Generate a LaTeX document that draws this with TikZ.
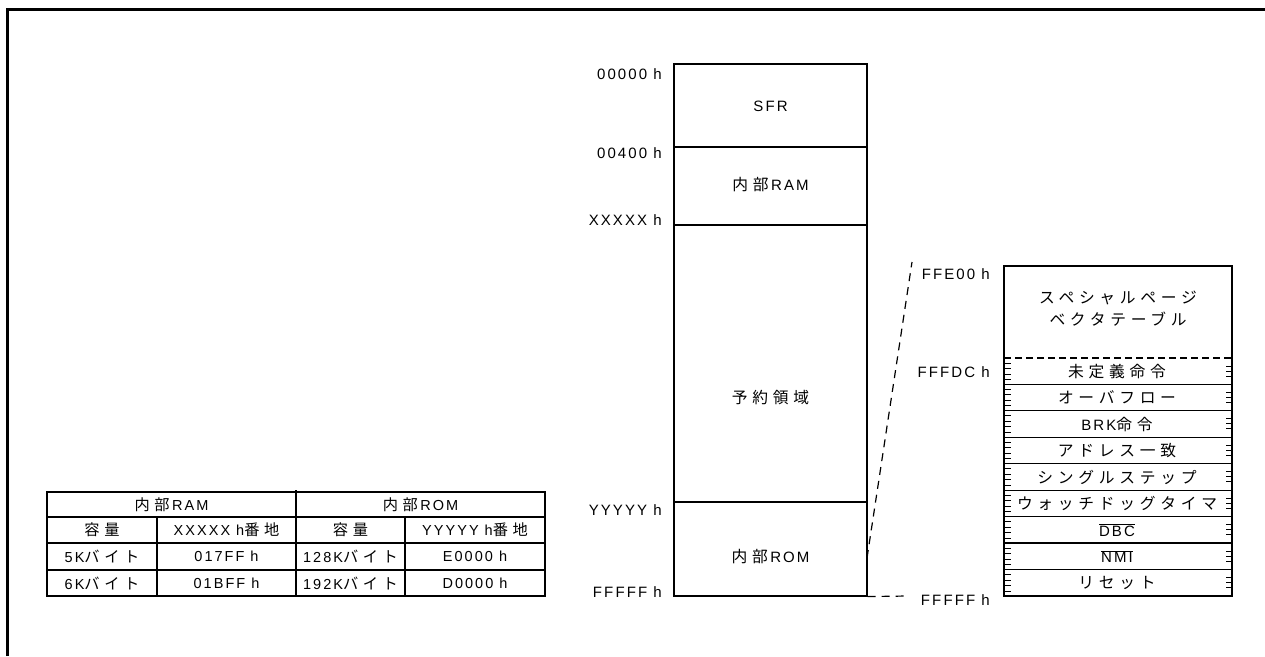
\documentclass[tikz,border=0pt]{standalone}
\usepackage{fontspec}
\setmainfont{Liberation Sans}[LetterSpace=14]
\newfontfamily\jp{Noto Sans CJK JP}[Scale=1.05,LetterSpace=30]
\begin{document}
\begin{tikzpicture}[x=1pt,y=-1pt,
  region/.style={shape=rectangle,draw=black,line width=1.2pt,minimum width=193pt,inner sep=0pt},
  addr/.style={anchor=east,inner sep=0pt,font=\fontsize{15}{17}\selectfont},
  txt/.style={inner sep=0pt,font=\fontsize{15}{22}\selectfont},
  cell/.style={inner sep=0pt,font=\fontsize{14.5}{16}\selectfont},
  link/.style={line width=1.2pt,dash pattern=on 8pt off 6pt},
  tick/.style={line width=0.9pt}]
\useasboundingbox (0,0) rectangle (1265,656);
\draw[line width=3pt] (7.5,656) -- (7.5,9.5) -- (1265,9.5);
% memory map
\node[region,minimum height=83pt] (sfr) at (770.5,105.5) {};
\node[region,minimum height=78pt] (ram) at (770.5,186) {};
\node[region,minimum height=277pt] (rsv) at (770.5,363.5) {};
\node[region,minimum height=94pt] (rom) at (770.5,549) {};
\node[txt] (sfrt) at (770.5,106) {SFR};
\node[txt] (ramt) at (770.5,185) {{\jp 内部}\,RAM};
\node[txt] (rsvt) at (770.5,398) {\jp 予約領域};
\node[txt] (romt) at (770.5,557) {{\jp 内部}\,ROM};
\node[addr] (a00000) at (662,74) {00000 h};
\node[addr] (a00400) at (662,153) {00400 h};
\node[addr] (aXXXXX) at (662,220) {XXXXX h};
\node[addr] (aYYYYY) at (662,510) {YYYYY h};
\node[addr] (aFFFFF) at (662,592) {FFFFF h};
% vector table
\node[region,minimum width=228pt,minimum height=330pt] (vt) at (1118,431) {};
\node[txt,align=center] (spv) at (1118,309) {\jp スペシャルページ\\\jp ベクタテーブル};
\node[addr] (aFFE00) at (990,274) {FFE00 h};
\node[addr] (aFFFDC) at (990,372) {FFFDC h};
\node[addr] (aFFFFFv) at (990,600) {FFFFF h};
\draw[line width=1.2pt,dash pattern=on 7pt off 4pt] (1004,358) -- (1232,358);
\foreach \lbl [count=\i] in {{\jp 未定義命令},{\jp オーバフロー},{BRK{\jp 命令}},{\jp アドレス一致},{\jp シングルステップ},{\jp ウォッチドッグタイマ},{$\overline{\mbox{DBC}}$},{$\overline{\mbox{NMI}}$},{\jp リセット}}{
  \pgfmathsetmacro{\yt}{358+(\i-1)*26.44}
  \node[txt] (row\i) at (1117,\yt+13.22) {\lbl};
  \ifnum\i>1 \draw[line width=1.2pt] (1004,\yt) -- (1232,\yt); \fi
  \foreach \d in {5,10.5,16,21.5} \draw[tick] (1004,\yt+\d) -- (1011,\yt+\d);
  \foreach \d in {8,13,18} \draw[tick] (1226,\yt+\d) -- (1232,\yt+\d);
}
% connectors
\coordinate (romtap) at (867,558);
\coordinate (vtop) at (912,262);
\coordinate (vend) at (907,596);
\draw[link] (romtap) -- (vtop);
\draw[link] (rom.south east) -- (vend);
% table
\draw[line width=1.1pt] (47,492) rectangle (545,596);
\foreach \y in {517,543,570} \draw[line width=1.1pt] (47,\y) -- (545,\y);
\draw[line width=1.1pt] (296,490) -- (296,596);
\draw[line width=1.1pt] (157,517) -- (157,596);
\draw[line width=1.1pt] (405,517) -- (405,596);
\node[cell] (hram) at (171.5,504.5) {{\jp 内部}\,RAM};
\node[cell] (hrom) at (420.5,504.5) {{\jp 内部}\,ROM};
\node[cell] (c21) at (102,530) {\jp 容量};
\node[cell] (c22) at (226.5,530) {XXXXX h{\jp 番地}};
\node[cell] (c23) at (350.5,530) {\jp 容量};
\node[cell] (c24) at (475,530) {YYYYY h{\jp 番地}};
\node[cell] (c31) at (102,556.5) {5K{\jp バイト}};
\node[cell] (c32) at (226.5,556.5) {017FF h};
\node[cell] (c33) at (350.5,556.5) {128K{\jp バイト}};
\node[cell] (c34) at (475,556.5) {E0000 h};
\node[cell] (c41) at (102,583) {6K{\jp バイト}};
\node[cell] (c42) at (226.5,583) {01BFF h};
\node[cell] (c43) at (350.5,583) {192K{\jp バイト}};
\node[cell] (c44) at (475,583) {D0000 h};
\end{tikzpicture}
\end{document}
